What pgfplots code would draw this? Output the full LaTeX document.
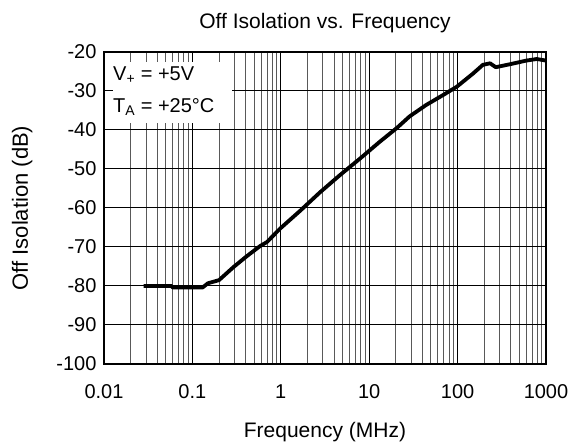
\documentclass[border=0pt]{standalone}
\usepackage{fontspec}
\setmainfont{Liberation Sans}
\usepackage{pgfplots}
\pgfplotsset{compat=1.18}

\begin{document}
\begin{tikzpicture}[font=\fontsize{20}{23}\selectfont]
  \begin{axis}[
      name=ax,
      at={(0,0)}, anchor=south west,
      scale only axis,
      width=442pt, height=312pt,
      xmode=log,
      xmin=0.01, xmax=1000,
      ymin=-100, ymax=-20,
      xtick={0.01,0.1,1,10,100,1000},
      xticklabels={0.01,0.1,1,10,100,1000},
      minor xtick={0.02,0.03,0.04,0.05,0.06,0.07,0.08,0.09,
                   0.2,0.3,0.4,0.5,0.6,0.7,0.8,0.9,
                   2,3,4,5,6,7,8,9,
                   20,30,40,50,60,70,80,90,
                   200,300,400,500,600,700,800,900},
      ytick={-100,-90,-80,-70,-60,-50,-40,-30,-20},
      /pgf/number format/assume math mode=true,
      tick style={draw=none},
      grid=both,
      major grid style={black, line width=1pt},
      minor grid style={black!65, line width=1pt},
      axis line style={black, line width=2pt},
      yticklabel style={xshift=-4pt},
      xticklabel style={yshift=-17pt},
      clip=false,
    ]
    \addplot[black, line width=3.8pt, line join=round] coordinates {
      (0.028,-80.0) (0.058,-80.0) (0.060,-80.4) (0.13,-80.4)
      (0.15,-79.3) (0.2,-78.5) (0.29,-75.2) (0.41,-72.4)
      (0.58,-69.8) (0.70,-68.7) (0.98,-65.3) (1.64,-60.8)
      (2.77,-56.0) (4.65,-51.6) (7.9,-47.3) (13.2,-43.0)
      (20.5,-39.5) (28.7,-36.5) (44,-33.6) (69,-31.0)
      (98,-28.9) (150,-25.5) (193,-23.3) (233,-22.9)
      (270,-23.9) (398,-23.1) (600,-22.2) (785,-21.8) (1000,-22.2)
    };
    % legend box with the test conditions
    \fill[white] (axis description cs:0.0204,0.968) rectangle (axis description cs:0.29,0.772);
    \node[anchor=west, inner sep=0pt] at (axis description cs:0.0204,0.926) {V\textsubscript{+} = +5V};
    \node[anchor=west, inner sep=0pt] at (axis description cs:0.0204,0.824) {T\textsubscript{A} = +25°C};
    % titles
    \node[font=\fontsize{21}{24}\selectfont] at (axis description cs:0.5,1.093) {Off Isolation vs. Frequency};
    \node[font=\fontsize{21}{24}\selectfont] at (axis description cs:0.5,-0.218) {Frequency (MHz)};
    \node[rotate=90, font=\fontsize{22}{25}\selectfont] at (axis description cs:-0.185,0.5) {Off Isolation (dB)};
  \end{axis}
  \pgfresetboundingbox
  \path (-104pt,-80pt) rectangle (470pt,364pt);
\end{tikzpicture}
\end{document}
